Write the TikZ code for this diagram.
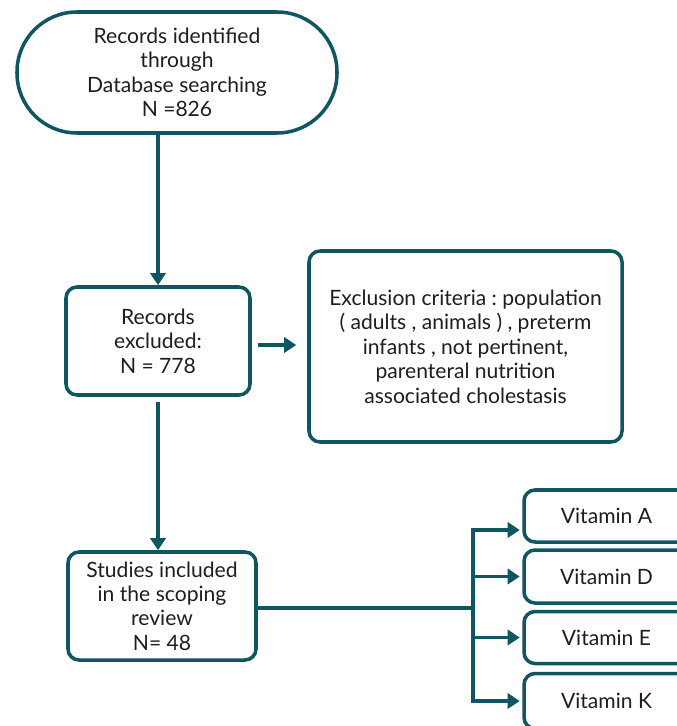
\documentclass[tikz,border=0pt]{standalone}
\usepackage{fontspec}
\setmainfont{Lato}
\frenchspacing
\usetikzlibrary{arrows.meta}
\definecolor{flowteal}{HTML}{0F5660}
\definecolor{flowtext}{HTML}{1E1E1E}
\tikzset{
  flowbox/.style={draw=flowteal, line width=2pt, rounded corners=0.22cm, align=center, text=flowtext, inner sep=2pt},
  flowline/.style={draw=flowteal, line width=2pt},
  flowarrow/.style={flowline, -{Triangle[length=0.24cm, width=0.3cm]}}
}
\begin{document}
\begin{tikzpicture}[font=\fontsize{12}{13.9}\selectfont]
\useasboundingbox (0,0) rectangle (13.54,-14.52);
\node[flowbox, rounded corners=1.2cm, minimum width=6.4cm, minimum height=2.42cm] (records) at (3.54,-1.45) {Records identified\\ through\\ Database searching\\ N =826};
\node[flowbox, minimum width=3.68cm, minimum height=2.16cm] (excluded) at (3.16,-6.82) {Records\\ excluded:\\ N = 778};
\node[flowbox, minimum width=6.26cm, minimum height=3.82cm] (criteria) at (9.31,-6.93) {Exclusion criteria : population\\ ( adults , animals ) , preterm\\ infants , not pertinent,\\ parenteral nutrition\\ associated cholestasis};
\node[flowbox, minimum width=3.76cm, minimum height=2.16cm] (studies) at (3.24,-12.12) {Studies included\\ in the scoping\\ review\\ N= 48};
\node[flowbox, minimum width=3.3cm, minimum height=1.04cm] (vitA) at (12.13,-10.32) {Vitamin A};
\node[flowbox, minimum width=3.3cm, minimum height=1.06cm] (vitD) at (12.13,-11.53) {Vitamin D};
\node[flowbox, minimum width=3.3cm, minimum height=1.04cm] (vitE) at (12.13,-12.75) {Vitamin E};
\node[flowbox, minimum width=3.3cm, minimum height=1.1cm] (vitK) at (12.13,-14.02) {Vitamin K};
\coordinate (fork) at (9.46,-12.16);
\draw[flowarrow] (excluded.north |- records.south) -- (excluded.north);
\draw[flowarrow, shorten <=0.12cm, shorten >=0.22cm] ([yshift=-0.08cm]excluded.east) -- ([yshift=-0.08cm]excluded.east -| criteria.west);
\draw[flowarrow, shorten <=0.1cm] (excluded.south) -- (excluded.south |- studies.north);
\draw[flowline] (studies.east |- fork) -- (fork);
\draw[flowarrow, shorten >=0.05cm] (fork) |- ([yshift=-0.28cm]vitA.west);
\draw[flowarrow, shorten >=0.05cm] (fork) |- (vitD.west);
\draw[flowarrow, shorten >=0.05cm] (fork) |- (vitE.west);
\draw[flowarrow, shorten >=0.05cm] (fork) |- (vitK.west);
\end{tikzpicture}
\end{document}
